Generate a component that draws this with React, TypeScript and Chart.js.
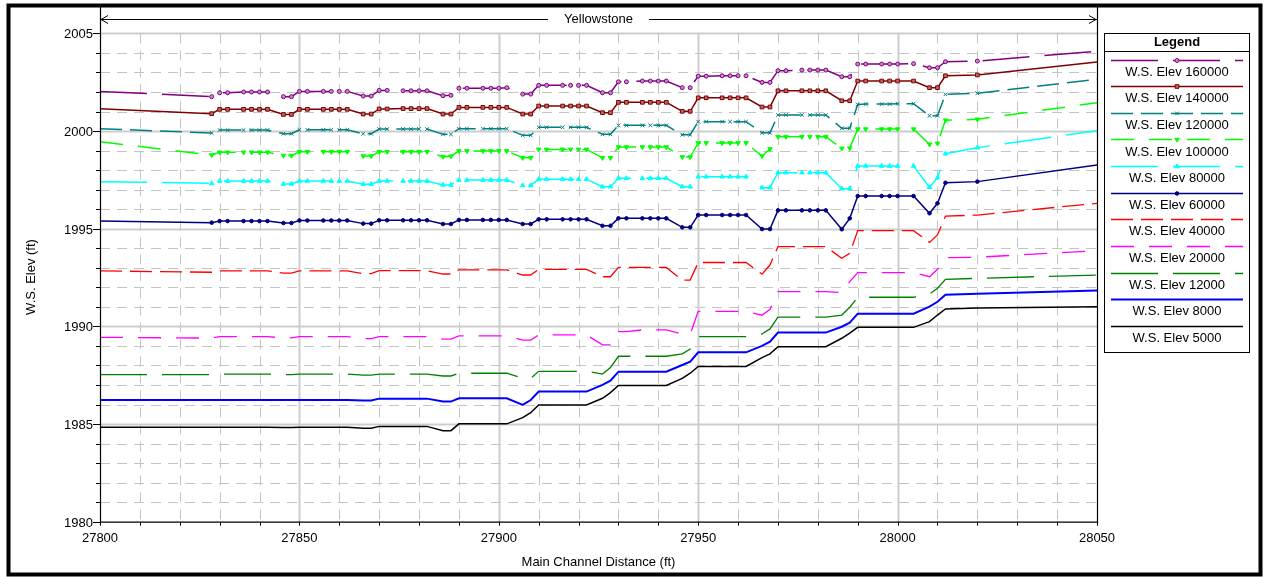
import React, { useEffect, useRef } from 'react';
import { Chart, registerables } from 'chart.js';
import { drawPoint } from 'chart.js/helpers';

Chart.register(...registerables);

// ---------- data ----------
const stations = [27800, 27828, 27830, 27832, 27836, 27838, 27840, 27842, 27846, 27848, 27850, 27852, 27856, 27858, 27860, 27862, 27866, 27868, 27870, 27872, 27876, 27878, 27880, 27882, 27886, 27888, 27890, 27892, 27896, 27898, 27900, 27902, 27906, 27908, 27910, 27912, 27916, 27918, 27920, 27922, 27926, 27928, 27930, 27932, 27936, 27938, 27940, 27942, 27946, 27948, 27950, 27952, 27956, 27958, 27960, 27962, 27966, 27968, 27970, 27972, 27976, 27978, 27980, 27982, 27986, 27988, 27990, 27992, 27996, 27998, 28000, 28004, 28008, 28010, 28012, 28020, 28050];

const ws160000 = [2002.03, 2001.76, 2001.96, 2001.96, 2002.0, 2002.0, 2002.0, 2002.0, 2001.76, 2001.76, 2002.03, 2002.03, 2002.03, 2002.03, 2002.03, 2002.03, 2001.79, 2001.79, 2002.08, 2002.08, 2002.06, 2002.06, 2002.06, 2002.06, 2001.81, 2001.83, 2002.19, 2002.19, 2002.19, 2002.19, 2002.19, 2002.22, 2001.89, 2001.89, 2002.34, 2002.34, 2002.34, 2002.34, 2002.34, 2002.34, 2001.96, 2001.96, 2002.52, 2002.52, 2002.56, 2002.56, 2002.56, 2002.56, 2002.22, 2002.22, 2002.81, 2002.81, 2002.83, 2002.83, 2002.83, 2002.83, 2002.49, 2002.49, 2003.09, 2003.09, 2003.12, 2003.12, 2003.12, 2003.12, 2002.78, 2002.78, 2003.43, 2003.43, 2003.43, 2003.43, 2003.43, 2003.45, 2003.24, 2003.24, 2003.55, 2003.58, 2004.09];
const ws140000 = [2001.14, 2000.89, 2001.11, 2001.11, 2001.11, 2001.11, 2001.11, 2001.11, 2000.85, 2000.85, 2001.11, 2001.11, 2001.11, 2001.11, 2001.11, 2001.11, 2000.87, 2000.87, 2001.13, 2001.13, 2001.15, 2001.15, 2001.15, 2001.15, 2000.87, 2000.87, 2001.21, 2001.21, 2001.21, 2001.21, 2001.21, 2001.21, 2000.87, 2000.87, 2001.28, 2001.28, 2001.28, 2001.28, 2001.28, 2001.28, 2000.94, 2000.94, 2001.47, 2001.47, 2001.47, 2001.47, 2001.47, 2001.47, 2001.01, 2001.01, 2001.7, 2001.7, 2001.7, 2001.7, 2001.7, 2001.7, 2001.23, 2001.23, 2002.06, 2002.06, 2002.06, 2002.06, 2002.06, 2002.06, 2001.55, 2001.55, 2002.56, 2002.56, 2002.56, 2002.56, 2002.56, 2002.56, 2002.22, 2002.22, 2002.83, 2002.87, 2003.53];
const ws120000 = [2000.12, 1999.9, 2000.05, 2000.05, 2000.05, 2000.05, 2000.05, 2000.05, 1999.86, 1999.86, 2000.06, 2000.06, 2000.06, 2000.06, 2000.06, 2000.06, 1999.86, 1999.86, 2000.1, 2000.1, 2000.1, 2000.1, 2000.1, 2000.1, 1999.83, 1999.83, 2000.12, 2000.12, 2000.12, 2000.12, 2000.12, 2000.12, 1999.78, 1999.78, 2000.19, 2000.19, 2000.19, 2000.19, 2000.19, 2000.19, 1999.83, 1999.83, 2000.29, 2000.29, 2000.29, 2000.29, 2000.29, 2000.29, 1999.81, 1999.81, 2000.48, 2000.48, 2000.48, 2000.48, 2000.48, 2000.48, 1999.91, 1999.91, 2000.82, 2000.82, 2000.82, 2000.82, 2000.82, 2000.82, 2000.14, 2000.14, 2001.36, 2001.38, 2001.38, 2001.38, 2001.4, 2001.4, 2000.78, 2000.78, 2001.88, 2001.93, 2002.65];
const ws100000 = [1999.45, 1998.77, 1998.91, 1998.91, 1998.91, 1998.91, 1998.91, 1998.91, 1998.74, 1998.74, 1998.94, 1998.94, 1998.94, 1998.94, 1998.94, 1998.94, 1998.72, 1998.72, 1998.94, 1998.94, 1998.94, 1998.94, 1998.94, 1998.94, 1998.69, 1998.71, 1998.98, 1998.98, 1998.98, 1998.98, 1998.98, 1998.98, 1998.63, 1998.63, 1999.06, 1999.06, 1999.06, 1999.06, 1999.06, 1999.06, 1998.63, 1998.63, 1999.18, 1999.18, 1999.18, 1999.18, 1999.18, 1999.18, 1998.67, 1998.67, 1999.39, 1999.39, 1999.39, 1999.39, 1999.39, 1999.39, 1998.72, 1999.08, 1999.71, 1999.71, 1999.71, 1999.71, 1999.71, 1999.71, 1999.11, 1999.12, 2000.1, 2000.1, 2000.1, 2000.1, 2000.1, 2000.1, 1999.32, 1999.37, 2000.55, 2000.6, 2001.45];
const ws80000 = [1997.41, 1997.32, 1997.44, 1997.44, 1997.44, 1997.44, 1997.44, 1997.44, 1997.29, 1997.29, 1997.44, 1997.44, 1997.44, 1997.44, 1997.44, 1997.44, 1997.28, 1997.28, 1997.44, 1997.44, 1997.44, 1997.44, 1997.44, 1997.44, 1997.24, 1997.24, 1997.49, 1997.49, 1997.49, 1997.49, 1997.49, 1997.49, 1997.22, 1997.22, 1997.53, 1997.53, 1997.53, 1997.53, 1997.53, 1997.53, 1997.15, 1997.15, 1997.58, 1997.58, 1997.58, 1997.58, 1997.58, 1997.58, 1997.15, 1997.15, 1997.66, 1997.66, 1997.66, 1997.66, 1997.66, 1997.66, 1997.1, 1997.1, 1997.87, 1997.87, 1997.87, 1997.87, 1997.87, 1997.87, 1997.05, 1997.05, 1998.21, 1998.21, 1998.21, 1998.21, 1998.21, 1998.21, 1997.12, 1997.61, 1998.84, 1999.15, 2000.02];
const ws60000 = [1995.39, 1995.31, 1995.39, 1995.39, 1995.39, 1995.39, 1995.39, 1995.39, 1995.29, 1995.29, 1995.42, 1995.42, 1995.42, 1995.42, 1995.42, 1995.42, 1995.26, 1995.26, 1995.43, 1995.43, 1995.43, 1995.43, 1995.43, 1995.43, 1995.24, 1995.24, 1995.45, 1995.45, 1995.45, 1995.45, 1995.45, 1995.45, 1995.24, 1995.24, 1995.48, 1995.48, 1995.48, 1995.48, 1995.48, 1995.48, 1995.15, 1995.15, 1995.53, 1995.53, 1995.53, 1995.53, 1995.53, 1995.53, 1995.07, 1995.07, 1995.7, 1995.7, 1995.7, 1995.7, 1995.7, 1995.7, 1994.98, 1994.98, 1995.94, 1995.94, 1995.94, 1995.94, 1995.94, 1995.94, 1994.97, 1995.53, 1996.67, 1996.67, 1996.67, 1996.67, 1996.67, 1996.67, 1995.79, 1996.3, 1997.35, 1997.41, 1998.26];
const ws40000 = [1992.84, 1992.77, 1992.84, 1992.84, 1992.84, 1992.84, 1992.84, 1992.84, 1992.73, 1992.73, 1992.84, 1992.84, 1992.84, 1992.84, 1992.84, 1992.84, 1992.7, 1992.7, 1992.85, 1992.85, 1992.85, 1992.85, 1992.85, 1992.85, 1992.68, 1992.68, 1992.89, 1992.89, 1992.89, 1992.89, 1992.89, 1992.89, 1992.63, 1992.63, 1992.92, 1992.92, 1992.92, 1992.92, 1992.92, 1992.92, 1992.54, 1992.54, 1993.02, 1993.02, 1993.02, 1993.02, 1993.02, 1993.02, 1992.37, 1992.37, 1993.27, 1993.27, 1993.27, 1993.27, 1993.27, 1993.27, 1992.67, 1993.14, 1994.08, 1994.08, 1994.08, 1994.08, 1994.08, 1994.08, 1993.49, 1993.74, 1994.9, 1994.9, 1994.9, 1994.9, 1994.9, 1994.9, 1994.3, 1994.68, 1995.64, 1995.7, 1996.3];
const ws20000 = [1989.44, 1989.4, 1989.47, 1989.47, 1989.47, 1989.47, 1989.47, 1989.47, 1989.41, 1989.41, 1989.47, 1989.47, 1989.47, 1989.47, 1989.47, 1989.47, 1989.37, 1989.37, 1989.47, 1989.47, 1989.47, 1989.47, 1989.47, 1989.47, 1989.35, 1989.35, 1989.51, 1989.51, 1989.51, 1989.51, 1989.51, 1989.51, 1989.3, 1989.3, 1989.56, 1989.56, 1989.56, 1989.56, 1989.56, 1989.56, 1989.05, 1989.05, 1989.73, 1989.73, 1989.82, 1989.82, 1989.82, 1989.82, 1989.6, 1989.6, 1990.77, 1990.77, 1990.77, 1990.77, 1990.77, 1990.77, 1990.57, 1990.87, 1991.78, 1991.78, 1991.78, 1991.78, 1991.78, 1991.78, 1991.73, 1992.29, 1992.75, 1992.75, 1992.75, 1992.75, 1992.75, 1992.75, 1992.54, 1992.92, 1993.52, 1993.54, 1993.87];
const ws12000 = [1987.53, 1987.53, 1987.56, 1987.56, 1987.56, 1987.56, 1987.56, 1987.56, 1987.53, 1987.53, 1987.56, 1987.56, 1987.56, 1987.56, 1987.56, 1987.56, 1987.5, 1987.5, 1987.56, 1987.56, 1987.56, 1987.56, 1987.56, 1987.56, 1987.46, 1987.46, 1987.6, 1987.6, 1987.6, 1987.6, 1987.6, 1987.6, 1987.34, 1987.34, 1987.7, 1987.7, 1987.7, 1987.7, 1987.7, 1987.7, 1987.56, 1987.89, 1988.47, 1988.47, 1988.47, 1988.47, 1988.47, 1988.47, 1988.59, 1988.84, 1989.47, 1989.47, 1989.47, 1989.47, 1989.47, 1989.47, 1989.61, 1989.87, 1990.47, 1990.47, 1990.47, 1990.47, 1990.47, 1990.47, 1990.58, 1990.98, 1991.49, 1991.49, 1991.49, 1991.49, 1991.49, 1991.49, 1991.66, 1991.95, 1992.41, 1992.46, 1992.63];
const ws8000 = [1986.23, 1986.23, 1986.23, 1986.23, 1986.23, 1986.23, 1986.23, 1986.23, 1986.23, 1986.23, 1986.23, 1986.23, 1986.23, 1986.23, 1986.23, 1986.23, 1986.2, 1986.2, 1986.3, 1986.3, 1986.3, 1986.3, 1986.3, 1986.3, 1986.15, 1986.15, 1986.32, 1986.32, 1986.32, 1986.32, 1986.32, 1986.32, 1985.98, 1986.23, 1986.66, 1986.66, 1986.66, 1986.66, 1986.66, 1986.66, 1987.0, 1987.22, 1987.68, 1987.68, 1987.68, 1987.68, 1987.68, 1987.68, 1988.02, 1988.19, 1988.67, 1988.67, 1988.67, 1988.67, 1988.67, 1988.67, 1989.0, 1989.22, 1989.68, 1989.68, 1989.68, 1989.68, 1989.68, 1989.68, 1989.98, 1990.19, 1990.65, 1990.65, 1990.65, 1990.65, 1990.65, 1990.65, 1991.01, 1991.26, 1991.62, 1991.67, 1991.83];
const ws5000 = [1984.84, 1984.84, 1984.84, 1984.84, 1984.84, 1984.84, 1984.84, 1984.84, 1984.82, 1984.82, 1984.84, 1984.84, 1984.84, 1984.84, 1984.84, 1984.84, 1984.79, 1984.79, 1984.88, 1984.88, 1984.88, 1984.88, 1984.88, 1984.88, 1984.66, 1984.66, 1985.01, 1985.01, 1985.01, 1985.01, 1985.01, 1985.01, 1985.33, 1985.58, 1985.98, 1985.98, 1985.98, 1985.98, 1985.98, 1985.98, 1986.32, 1986.61, 1986.97, 1986.97, 1986.97, 1986.97, 1986.97, 1986.97, 1987.34, 1987.6, 1987.95, 1987.95, 1987.95, 1987.95, 1987.95, 1987.95, 1988.4, 1988.59, 1988.96, 1988.96, 1988.96, 1988.96, 1988.96, 1988.96, 1989.39, 1989.65, 1989.95, 1989.95, 1989.95, 1989.95, 1989.95, 1989.95, 1990.24, 1990.58, 1990.89, 1990.94, 1991.01];

const seriesLabels = ['W.S. Elev 160000', 'W.S. Elev 140000', 'W.S. Elev 120000', 'W.S. Elev 100000', 'W.S. Elev 80000', 'W.S. Elev 60000', 'W.S. Elev 40000', 'W.S. Elev 20000', 'W.S. Elev 12000', 'W.S. Elev 8000', 'W.S. Elev 5000'];
const seriesValues = [ws160000, ws140000, ws120000, ws100000, ws80000, ws60000, ws40000, ws20000, ws12000, ws8000, ws5000];

const xTickValues = [27800, 27810, 27820, 27830, 27840, 27850, 27860, 27870, 27880, 27890, 27900, 27910, 27920, 27930, 27940, 27950, 27960, 27970, 27980, 27990, 28000, 28010, 28020, 28030, 28040, 28050];
const xTickLabels = ['27800', '', '', '', '', '27850', '', '', '', '', '27900', '', '', '', '', '27950', '', '', '', '', '28000', '', '', '', '', '28050'];
const yTickValues = [1980, 1981, 1982, 1983, 1984, 1985, 1986, 1987, 1988, 1989, 1990, 1991, 1992, 1993, 1994, 1995, 1996, 1997, 1998, 1999, 2000, 2001, 2002, 2003, 2004, 2005];
const yTickLabels = ['1980', '', '', '', '', '1985', '', '', '', '', '1990', '', '', '', '', '1995', '', '', '', '', '2000', '', '', '', '', '2005'];
const reachName = 'Yellowstone';
const xTitle = 'Main Channel Distance (ft)';
const yTitle = 'W.S. Elev (ft)';
const legendTitle = 'Legend';

// ---------- styles ----------
type Sty = { color: string; dash: number[]; width: number; marker: string | false; radius: number; rotation: number; fill: string };
const styles: Sty[] = [
  { color: '#800080', dash: [47, 15], width: 1.5, marker: 'circle', radius: 2, rotation: 0, fill: '#c78ac7' },
  { color: '#800000', dash: [], width: 1.5, marker: 'rect', radius: 2.6, rotation: 0, fill: '#b86a6a' },
  { color: '#008080', dash: [22, 8], width: 1.5, marker: 'crossRot', radius: 2.6, rotation: 0, fill: '#008080' },
  { color: '#00ff00', dash: [23, 15], width: 1.5, marker: 'triangle', radius: 2.6, rotation: 180, fill: '#00ff00' },
  { color: '#00ffff', dash: [47, 15], width: 1.5, marker: 'triangle', radius: 2.6, rotation: 0, fill: '#00ffff' },
  { color: '#000080', dash: [], width: 1.5, marker: 'circle', radius: 1.8, rotation: 0, fill: '#000080' },
  { color: '#ff0000', dash: [22, 8], width: 1.3, marker: false, radius: 0, rotation: 0, fill: '#ff0000' },
  { color: '#ff00ff', dash: [23, 15], width: 1.3, marker: false, radius: 0, rotation: 0, fill: '#ff00ff' },
  { color: '#008000', dash: [47, 15], width: 1.3, marker: false, radius: 0, rotation: 0, fill: '#008000' },
  { color: '#0000ff', dash: [], width: 2, marker: false, radius: 0, rotation: 0, fill: '#0000ff' },
  { color: '#000000', dash: [], width: 1.5, marker: false, radius: 0, rotation: 0, fill: '#000000' },
];

const FONT = "'Liberation Sans', Arial, sans-serif";
const W = 1265;
const H = 577;

const decorPlugin = {
  id: 'decor',
  beforeDraw(chart: any) {
    const ctx = chart.ctx;
    ctx.save();
    ctx.fillStyle = '#ffffff';
    ctx.fillRect(0, 0, chart.width, chart.height);
    ctx.restore();
  },
  beforeDatasetsDraw(chart: any) {
    const { ctx, chartArea } = chart;
    const xs = chart.scales.x;
    const ys = chart.scales.y;
    const yTop = ys.getPixelForValue(yTickValues[yTickValues.length - 1]);
    ctx.save();
    // horizontal grid
    yTickValues.forEach((v, i) => {
      const py = Math.round(ys.getPixelForValue(v)) + 0.5;
      if (i === 0) return;
      const major = yTickLabels[i] !== '';
      ctx.beginPath();
      ctx.strokeStyle = major ? '#cdcdcd' : '#c4c4c4';
      ctx.lineWidth = major ? 2 : 1;
      ctx.setLineDash(major ? [] : [10, 7]);
      ctx.moveTo(chartArea.left, py);
      ctx.lineTo(chartArea.right, py);
      ctx.stroke();
    });
    // vertical grid
    xTickValues.forEach((v, i) => {
      if (i === 0 || i === xTickValues.length - 1) return;
      const px = Math.round(xs.getPixelForValue(v)) + 0.5;
      const major = xTickLabels[i] !== '';
      ctx.beginPath();
      ctx.strokeStyle = major ? '#cdcdcd' : '#c4c4c4';
      ctx.lineWidth = major ? 2 : 1;
      ctx.setLineDash(major ? [] : [10, 7]);
      ctx.moveTo(px, yTop);
      ctx.lineTo(px, chartArea.bottom);
      ctx.stroke();
    });
    ctx.restore();
  },
  afterDraw(chart: any) {
    const { ctx, chartArea } = chart;
    const xs = chart.scales.x;
    const ys = chart.scales.y;
    const L = chartArea.left;
    const R = chartArea.right;
    const T = chartArea.top;
    const B = chartArea.bottom;
    ctx.save();
    ctx.setLineDash([]);
    ctx.strokeStyle = '#000';
    ctx.lineWidth = 1.2;
    // axes and right border
    ctx.beginPath();
    ctx.moveTo(L + 0.5, T);
    ctx.lineTo(L + 0.5, B + 0.5);
    ctx.lineTo(R + 0.5, B + 0.5);
    ctx.lineTo(R + 0.5, T);
    ctx.stroke();
    // y ticks and labels
    ctx.lineWidth = 1;
    ctx.fillStyle = '#000';
    ctx.font = `13px ${FONT}`;
    ctx.textAlign = 'right';
    ctx.textBaseline = 'middle';
    yTickValues.forEach((v, i) => {
      const py = Math.round(ys.getPixelForValue(v)) + 0.5;
      const len = yTickLabels[i] !== '' ? 7 : 4;
      ctx.beginPath();
      ctx.moveTo(L - len, py);
      ctx.lineTo(L, py);
      ctx.stroke();
      if (yTickLabels[i]) ctx.fillText(yTickLabels[i], L - 7, py + 0.5);
    });
    // x ticks
    xTickValues.forEach((v) => {
      const px = Math.round(xs.getPixelForValue(v)) + 0.5;
      ctx.beginPath();
      ctx.moveTo(px, B);
      ctx.lineTo(px, B + 4);
      ctx.stroke();
    });
    // reach arrow
    const ay = 19.5;
    const cx = (L + R) / 2;
    ctx.font = `13px ${FONT}`;
    const tw = ctx.measureText(reachName).width;
    ctx.beginPath();
    ctx.moveTo(L, ay);
    ctx.lineTo(cx - tw / 2 - 16, ay);
    ctx.moveTo(cx + tw / 2 + 16, ay);
    ctx.lineTo(R, ay);
    ctx.moveTo(L + 8, ay - 4);
    ctx.lineTo(L + 1, ay);
    ctx.lineTo(L + 8, ay + 4);
    ctx.moveTo(R - 8, ay - 4);
    ctx.lineTo(R - 1, ay);
    ctx.lineTo(R - 8, ay + 4);
    ctx.stroke();
    ctx.fillStyle = '#000';
    ctx.textAlign = 'center';
    ctx.textBaseline = 'middle';
    ctx.fillText(reachName, cx, ay);
    // axis titles
    ctx.fillText(xTitle, cx, 562);
    ctx.save();
    ctx.translate(31, 277);
    ctx.rotate(-Math.PI / 2);
    ctx.fillText(yTitle, 0, 0);
    ctx.restore();
    // legend
    const lx0 = 1104.5;
    const lx1 = 1249.5;
    const ly0 = 33.5;
    const ly1 = 352.5;
    const lcx = (lx0 + lx1) / 2;
    ctx.lineWidth = 1;
    ctx.strokeStyle = '#000';
    ctx.strokeRect(lx0, ly0, lx1 - lx0, ly1 - ly0);
    ctx.beginPath();
    ctx.moveTo(lx0, 51.5);
    ctx.lineTo(lx1, 51.5);
    ctx.stroke();
    ctx.font = `bold 13px ${FONT}`;
    ctx.fillText(legendTitle, lcx, 42.5);
    ctx.font = `13px ${FONT}`;
    seriesLabels.forEach((lab, i) => {
      const st = styles[i];
      const ly = Math.round(59.5 + 26.65 * i) + 0.5;
      ctx.save();
      ctx.strokeStyle = st.color;
      ctx.lineWidth = st.width;
      ctx.setLineDash(st.dash);
      ctx.beginPath();
      ctx.moveTo(1111, ly);
      ctx.lineTo(1243, ly);
      ctx.stroke();
      ctx.setLineDash([]);
      if (st.marker) {
        ctx.fillStyle = st.fill;
        ctx.strokeStyle = st.color;
        ctx.lineWidth = 1;
        drawPoint(ctx, { pointStyle: st.marker, rotation: st.rotation, radius: st.radius, borderWidth: 1 } as any, lcx, ly);
      }
      ctx.restore();
      ctx.fillStyle = '#000';
      ctx.fillText(lab, lcx, 72 + 26.65 * i);
    });
    // outer frame
    ctx.lineWidth = 4;
    ctx.strokeStyle = '#000';
    ctx.strokeRect(8.5, 5.5, 1252, 569);
    ctx.restore();
  },
};

export default function App() {
  const ref = useRef<HTMLCanvasElement | null>(null);
  useEffect(() => {
    document.body.style.margin = '0';
    const canvas = ref.current;
    if (!canvas) return;
    const last = stations.length - 1;
    const datasets = seriesValues.map((vals, i) => {
      const st = styles[i];
      return {
        label: seriesLabels[i],
        data: stations.map((x, j) => ({ x, y: vals[j] })),
        borderColor: st.color,
        backgroundColor: st.fill,
        borderWidth: st.width,
        borderDash: st.dash,
        tension: 0,
        pointStyle: st.marker || 'circle',
        rotation: st.rotation,
        pointRotation: st.rotation,
        pointBorderColor: st.color,
        pointBackgroundColor: st.fill,
        pointBorderWidth: 1,
        pointRadius: (c: any) => (!st.marker || c.dataIndex === 0 || c.dataIndex === last ? 0 : st.radius),
        pointHoverRadius: 0,
      };
    });
    const chart = new Chart(canvas, {
      type: 'line',
      data: { datasets: datasets.slice().reverse() as any },
      options: {
        responsive: false,
        animation: false,
        devicePixelRatio: 1,
        events: [],
        layout: { padding: { left: 0, right: W - 1097, top: 7, bottom: 0 } },
        plugins: { legend: { display: false }, tooltip: { enabled: false }, title: { display: false } },
        scales: {
          x: {
            type: 'linear',
            min: 27800,
            max: 28050,
            grid: { display: false, drawTicks: false },
            border: { display: false },
            afterBuildTicks: (s: any) => {
              s.ticks = xTickValues.map((v) => ({ value: v }));
            },
            afterFit: (s: any) => {
              s.height = H - 521.7;
            },
            ticks: {
              autoSkip: false,
              maxRotation: 0,
              minRotation: 0,
              padding: 9,
              color: '#000',
              font: { family: FONT, size: 13 },
              callback: (_v: any, i: number) => xTickLabels[i],
            },
          },
          y: {
            type: 'linear',
            min: 1980,
            max: 2006.35,
            grid: { display: false, drawTicks: false },
            border: { display: false },
            afterBuildTicks: (s: any) => {
              s.ticks = yTickValues.map((v) => ({ value: v }));
            },
            afterFit: (s: any) => {
              s.width = 100;
            },
            ticks: { display: false },
          },
        },
      },
      plugins: [decorPlugin],
    });
    return () => chart.destroy();
  }, []);
  return (
    <div style={{ width: W, height: H }}>
      <canvas ref={ref} width={W} height={H} style={{ display: 'block', width: W, height: H }} />
    </div>
  );
}
